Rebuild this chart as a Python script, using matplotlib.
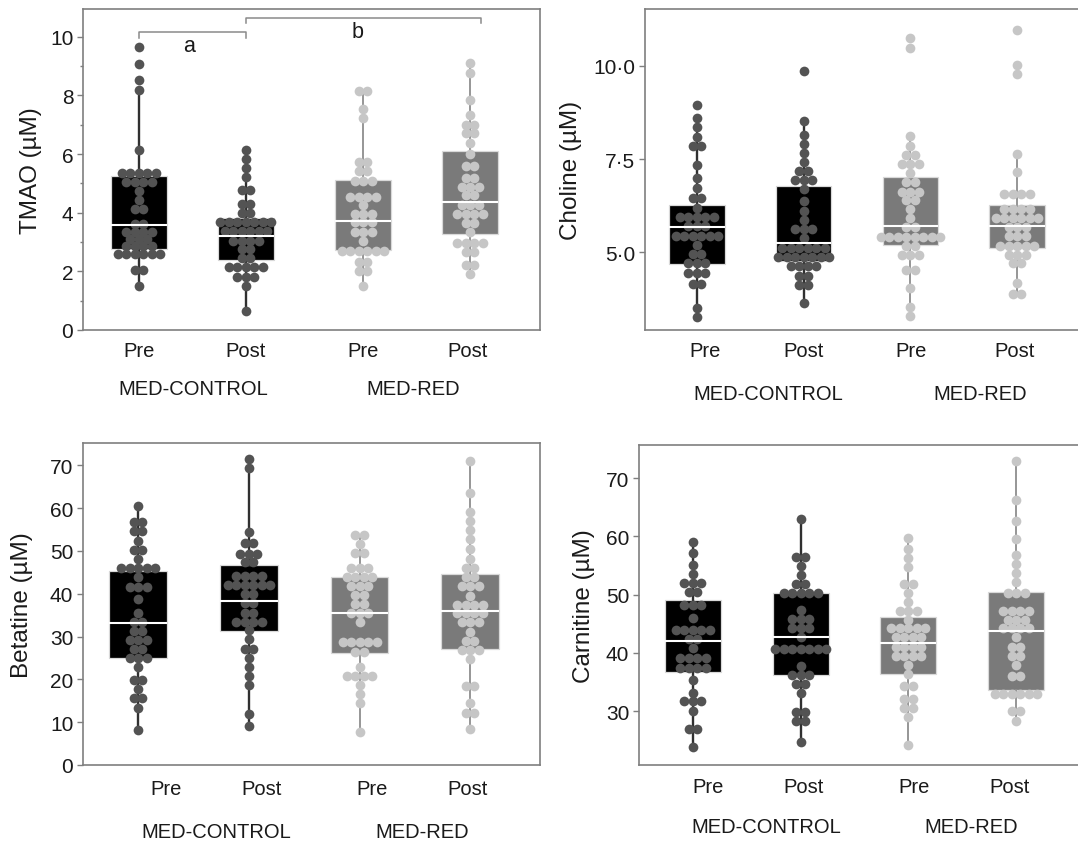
import numpy as np
import matplotlib
matplotlib.use("Agg")
import matplotlib.pyplot as plt
from matplotlib.ticker import FuncFormatter, MultipleLocator

plt.rcParams["font.family"] = ["Liberation Sans", "DejaVu Sans"]

groups = ["MED-CONTROL", "MED-RED"]
times = ["Pre", "Post", "Pre", "Post"]

# TMAO (uM) per participant, read from the dot rows
tmao_ctrl_pre = [9.66, 9.06, 8.52, 8.18, 6.13, 5.36, 5.36, 5.36, 5.36, 5.36,
                 5.05, 5.05, 5.05, 5.05, 4.74, 4.44, 4.13, 4.13, 3.62, 3.62,
                 3.36, 3.36, 3.36, 3.36, 3.11, 3.11, 3.11, 2.88, 2.88, 2.88,
                 2.88, 2.60, 2.60, 2.60, 2.60, 2.60, 2.60, 2.03, 2.03, 1.51]
tmao_ctrl_post = [6.13, 5.82, 5.52, 5.22, 4.76, 4.76, 4.30, 4.30, 4.00, 4.00,
                  3.68, 3.68, 3.68, 3.68, 3.68, 3.68, 3.68, 3.39, 3.39, 3.39,
                  3.39, 3.39, 3.39, 3.05, 3.05, 3.05, 3.05, 2.77, 2.77, 2.46,
                  2.46, 2.14, 2.14, 2.14, 2.14, 2.14, 1.80, 1.80, 1.80, 1.51, 0.66]
tmao_red_pre = [8.14, 8.14, 7.53, 7.23, 5.73, 5.73, 5.41, 5.41, 5.07, 5.07,
                5.07, 4.53, 4.53, 4.53, 4.53, 4.25, 3.96, 3.96, 3.96, 3.68,
                3.68, 3.68, 3.36, 3.36, 3.36, 3.02, 2.71, 2.71, 2.71, 2.71,
                2.71, 2.71, 2.31, 2.31, 2.01, 2.01, 1.49]
tmao_red_post = [9.12, 8.75, 7.83, 7.35, 7.00, 7.00, 6.72, 6.72, 6.39, 6.01,
                 5.61, 5.61, 5.18, 5.18, 4.88, 4.88, 4.88, 4.59, 4.59, 4.27,
                 4.27, 4.27, 3.96, 3.96, 3.96, 3.96, 3.66, 3.66, 3.36, 2.97,
                 2.97, 2.97, 2.97, 2.65, 2.65, 2.22, 2.22, 1.91]
# box stats: q1, median, q3, whisker low, whisker high
tmao_boxes = [[2.77, 3.59, 5.25, 1.51, 8.18],
              [2.40, 3.22, 3.82, 0.66, 6.13],
              [2.74, 3.73, 5.10, 1.49, 8.14],
              [3.28, 4.36, 6.09, 1.91, 9.12]]

choline_ctrl_pre = [8.95, 8.60, 8.36, 8.09, 7.86, 7.86, 7.34, 6.98, 6.72, 6.45,
                    6.45, 6.19, 5.96, 5.96, 5.96, 5.96, 5.96, 5.70, 5.70, 5.70,
                    5.45, 5.45, 5.45, 5.45, 5.45, 5.45, 5.21, 4.96, 4.96, 4.71,
                    4.71, 4.71, 4.46, 4.46, 4.46, 4.15, 4.15, 3.50, 3.26]
choline_ctrl_post = [9.87, 8.53, 8.14, 7.90, 7.66, 7.41, 7.17, 7.17, 6.94, 6.94,
                     6.94, 6.71, 6.38, 6.12, 5.87, 5.63, 5.63, 5.63, 5.38, 5.13,
                     5.13, 5.13, 5.13, 5.13, 5.13, 4.88, 4.88, 4.88, 4.88, 4.88,
                     4.88, 4.88, 4.63, 4.63, 4.63, 4.63, 4.38, 4.38, 4.13, 4.13, 3.64]
choline_red_pre = [10.73, 10.48, 8.11, 7.86, 7.61, 7.61, 7.37, 7.37, 7.37, 7.13,
                   6.88, 6.88, 6.63, 6.63, 6.63, 6.40, 6.40, 6.16, 5.91, 5.67,
                   5.67, 5.42, 5.42, 5.42, 5.42, 5.42, 5.42, 5.42, 5.42, 5.18,
                   5.18, 4.94, 4.94, 4.94, 4.54, 4.54, 4.04, 3.53, 3.30]
choline_red_post = [10.96, 10.02, 9.78, 7.63, 7.16, 6.56, 6.56, 6.56, 6.56, 6.16,
                    6.16, 6.16, 6.16, 5.91, 5.91, 5.91, 5.91, 5.91, 5.91, 5.67,
                    5.67, 5.67, 5.43, 5.43, 5.43, 5.18, 5.18, 5.18, 5.18, 5.18,
                    4.94, 4.94, 4.94, 4.71, 4.71, 4.17, 3.88, 3.88]
choline_boxes = [[4.69, 5.67, 6.27, 3.26, 8.60],
                 [4.78, 5.24, 6.79, 3.64, 8.53],
                 [5.20, 5.70, 7.01, 3.30, 8.11],
                 [5.11, 5.70, 6.27, 3.88, 7.63]]

betaine_ctrl_pre = [60.4, 56.7, 56.7, 54.6, 54.6, 52.4, 50.3, 50.3, 48.1, 46.0,
                    46.0, 46.0, 46.0, 46.0, 43.8, 41.6, 41.6, 41.6, 38.7, 35.5,
                    33.3, 33.3, 31.2, 31.2, 29.1, 29.1, 29.1, 27.0, 27.0, 24.9,
                    24.9, 24.9, 22.8, 19.9, 19.9, 17.7, 15.6, 15.6, 13.4, 8.1]
betaine_ctrl_post = [71.5, 69.3, 54.5, 51.8, 51.8, 49.3, 49.3, 49.3, 47.3, 47.3,
                     44.2, 44.2, 44.2, 44.2, 42.0, 42.0, 42.0, 42.0, 42.0, 42.0,
                     39.9, 39.9, 37.8, 37.8, 35.6, 35.6, 33.5, 33.5, 33.5, 33.5,
                     31.5, 29.4, 27.2, 27.2, 25.1, 23.0, 20.8, 18.7, 11.9, 9.0]
betaine_red_pre = [53.7, 53.7, 51.6, 49.5, 49.5, 46.1, 46.1, 46.1, 44.0, 44.0,
                   44.0, 44.0, 41.9, 41.9, 41.9, 39.7, 39.7, 37.7, 37.7, 35.6,
                   35.6, 35.6, 33.4, 28.8, 28.8, 28.8, 28.8, 28.8, 26.5, 26.5,
                   23.0, 20.8, 20.8, 20.8, 20.8, 18.6, 16.5, 14.4, 7.6]
betaine_red_post = [70.9, 63.5, 59.0, 57.1, 54.9, 52.8, 50.4, 48.1, 45.9, 45.9,
                    43.8, 43.8, 41.7, 41.7, 41.7, 39.5, 37.4, 37.4, 37.4, 37.4,
                    35.4, 35.4, 35.4, 35.4, 33.3, 33.3, 33.3, 31.1, 29.0, 29.0,
                    26.9, 26.9, 26.9, 24.7, 18.5, 18.5, 14.4, 12.2, 12.2, 8.5]
betaine_boxes = [[24.9, 33.1, 45.4, 8.1, 60.4],
                 [31.2, 38.4, 46.7, 9.0, 71.5],
                 [26.1, 35.6, 43.8, 7.6, 53.7],
                 [27.2, 36.0, 44.6, 8.5, 70.9]]

carnitine_ctrl_pre = [59.1, 57.1, 55.1, 53.5, 52.0, 52.0, 52.0, 50.5, 50.5, 48.2,
                      48.2, 48.2, 46.0, 43.9, 43.9, 43.9, 43.9, 43.9, 42.4, 42.4,
                      40.8, 39.1, 39.1, 39.1, 39.1, 37.5, 37.5, 37.5, 37.5, 35.3,
                      33.2, 31.8, 31.8, 31.8, 30.1, 27.0, 27.0, 23.9]
carnitine_ctrl_post = [63.0, 56.4, 56.4, 54.9, 53.4, 51.8, 51.8, 50.2, 50.2, 50.2,
                       50.2, 50.2, 47.3, 45.8, 45.8, 45.8, 44.3, 44.3, 44.3, 42.7,
                       40.6, 40.6, 40.6, 40.6, 40.6, 40.6, 40.6, 37.8, 36.3, 36.3,
                       36.3, 34.7, 34.7, 33.1, 29.8, 29.8, 28.3, 28.3, 24.8]
carnitine_red_pre = [59.7, 57.8, 56.3, 54.7, 51.8, 51.8, 50.3, 48.8, 47.2, 47.2,
                     47.2, 45.7, 44.2, 44.2, 44.2, 44.2, 44.2, 42.7, 42.7, 42.7,
                     42.7, 41.1, 41.1, 41.1, 41.1, 39.5, 39.5, 39.5, 39.5, 37.9,
                     36.4, 34.4, 34.4, 32.1, 32.1, 30.6, 30.6, 29.0, 24.2]
carnitine_red_post = [73.0, 66.3, 62.7, 59.5, 56.8, 55.2, 53.7, 52.2, 50.2, 50.2,
                      50.2, 47.2, 47.2, 47.2, 47.2, 45.7, 45.7, 45.7, 44.2, 44.2,
                      44.2, 44.2, 42.7, 41.1, 41.1, 39.5, 39.5, 37.9, 36.1, 36.1,
                      32.9, 32.9, 32.9, 32.9, 32.9, 32.9, 30.1, 30.1, 28.3]
carnitine_boxes = [[36.8, 42.1, 49.1, 23.9, 59.1],
                   [36.2, 42.7, 50.3, 24.8, 63.0],
                   [36.4, 41.7, 46.1, 24.2, 59.7],
                   [33.6, 43.8, 50.5, 28.3, 73.0]]

# significance brackets on the TMAO panel: label, x1, x2, bar height, label x, label y
tmao_brackets = [("a", 1, 2, 10.15, 1.47, 9.71),
                 ("b", 2, 4.2, 10.66, 3.05, 10.18)]

W, H = 1078, 845
CTRL = dict(box="#000000", line="#303030", dot="#535353", lw=1.7)
RED = dict(box="#7a7a7a", line="#8e8e8e", dot="#c6c6c6", lw=1.3)
SPINE = "#7f7f7f"


def add_panel(fig, left, top, right, bottom):
    return fig.add_axes([left / W, 1 - bottom / H, (right - left) / W, (bottom - top) / H])


def draw_panel(ax, box_px, series, boxes, positions, xlim, ylim, yticks, ylabel,
               tick_pos, group_pos, tick_pad, group_off, ylabel_px, fmt=None):
    left, top, right, bottom = box_px
    ax.set_xlim(*xlim)
    ax.set_ylim(*ylim)
    dx = 8.5 * (xlim[1] - xlim[0]) / (right - left)

    for i, (vals, b, pos) in enumerate(zip(series, boxes, positions)):
        st = CTRL if i < 2 else RED
        stats = [dict(q1=b[0], med=b[1], q3=b[2], whislo=b[3], whishi=b[4], fliers=[])]
        ax.bxp(stats, positions=[pos], widths=0.52, patch_artist=True,
               showfliers=False, showcaps=False,
               boxprops=dict(facecolor=st["box"], edgecolor="#d9d9d9", linewidth=0.9, zorder=1),
               whiskerprops=dict(color=st["line"], linewidth=st["lw"], zorder=1),
               medianprops=dict(color="white", linewidth=1.5, zorder=4))
        rows, counts = np.unique(np.array(vals), return_counts=True)
        for y, n in zip(rows, counts):
            xs = pos + (np.arange(n) - (n - 1) / 2) * dx
            ax.plot(xs, np.full(n, y), "o", ms=7, mew=0, color=st["dot"], zorder=3)

    for sp in ax.spines.values():
        sp.set_color(SPINE)
        sp.set_linewidth(1.2)

    ax.set_yticks(yticks)
    if fmt:
        ax.yaxis.set_major_formatter(FuncFormatter(fmt))
    ax.tick_params(axis="y", direction="out", length=4, width=1, color=SPINE,
                   labelsize=15, labelcolor="#1a1a1a", pad=3)
    ax.set_xticks(tick_pos, times)
    ax.tick_params(axis="x", length=0, labelsize=14.5, labelcolor="#1a1a1a", pad=tick_pad)

    ax.set_ylabel(ylabel, fontsize=17.5, color="#1a1a1a")
    ax.yaxis.set_label_coords((ylabel_px - left) / (right - left), 0.5)

    for name, gx in zip(groups, group_pos):
        ax.annotate(name, xy=(gx, 0), xycoords=("data", "axes fraction"),
                    xytext=(0, -group_off * 0.72), textcoords="offset points",
                    ha="center", va="center", fontsize=14.5, color="#1a1a1a",
                    annotation_clip=False)


fig = plt.figure(figsize=(W / 100, H / 100), dpi=100)

# TMAO
box1 = (83, 10, 540, 331)
ax1 = add_panel(fig, *box1)
draw_panel(ax1, box1, [tmao_ctrl_pre, tmao_ctrl_post, tmao_red_pre, tmao_red_post],
           tmao_boxes, [1, 2, 3.1, 4.1], (0.476, 4.755), (0, 10.95), range(0, 11, 2),
           "TMAO (\u00b5M)", [1, 2, 3.1, 4.08], [1.51, 3.57], 8, 59, 42)
ax1.yaxis.set_minor_locator(MultipleLocator(1))
ax1.tick_params(axis="y", which="minor", length=2.5, width=1, color=SPINE)
for lab, x1, x2, yb, lx, ly in tmao_brackets:
    ax1.plot([x1, x1, x2, x2], [yb - 0.18, yb, yb, yb - 0.18], color="#8a8a8a",
             lw=1.1, clip_on=False, zorder=5)
    ax1.text(lx, ly, lab, ha="center", va="center", fontsize=15.5, color="#1a1a1a")

# Choline
box2 = (645, 10, 1090, 331)
ax2 = add_panel(fig, *box2)
draw_panel(ax2, box2, [choline_ctrl_pre, choline_ctrl_post, choline_red_pre, choline_red_post],
           choline_boxes, [1, 2, 3, 4], (0.513, 4.683), (2.92, 11.52), [5.0, 7.5, 10.0],
           "Choline (\u00b5M)", [1.08, 2.0, 3.01, 3.98], [1.67, 3.65], 8, 64, 582,
           fmt=lambda v, p: f"{v:.1f}".replace(".", "\u00b7"))

# Betaine
box3 = (83, 444, 540, 766)
ax3 = add_panel(fig, *box3)
draw_panel(ax3, box3, [betaine_ctrl_pre, betaine_ctrl_post, betaine_red_pre, betaine_red_post],
           betaine_boxes, [1, 2, 3, 4], (0.503, 4.63), (0, 75.2), range(0, 71, 10),
           "Betatine (\u00b5M)", [1.25, 2.12, 3.11, 3.98], [1.71, 3.57], 10, 67, 33)

# Carnitine
box4 = (639, 446, 1085, 766)
ax4 = add_panel(fig, *box4)
draw_panel(ax4, box4, [carnitine_ctrl_pre, carnitine_ctrl_post, carnitine_red_pre, carnitine_red_post],
           carnitine_boxes, [1, 2, 3, 4], (0.499, 4.64), (20.79, 75.66), range(30, 71, 10),
           "Carnitine (\u00b5M)", [1.14, 2.03, 3.05, 3.94], [1.68, 3.58], 9, 62, 595)

fig.savefig("out.png", dpi=100)
